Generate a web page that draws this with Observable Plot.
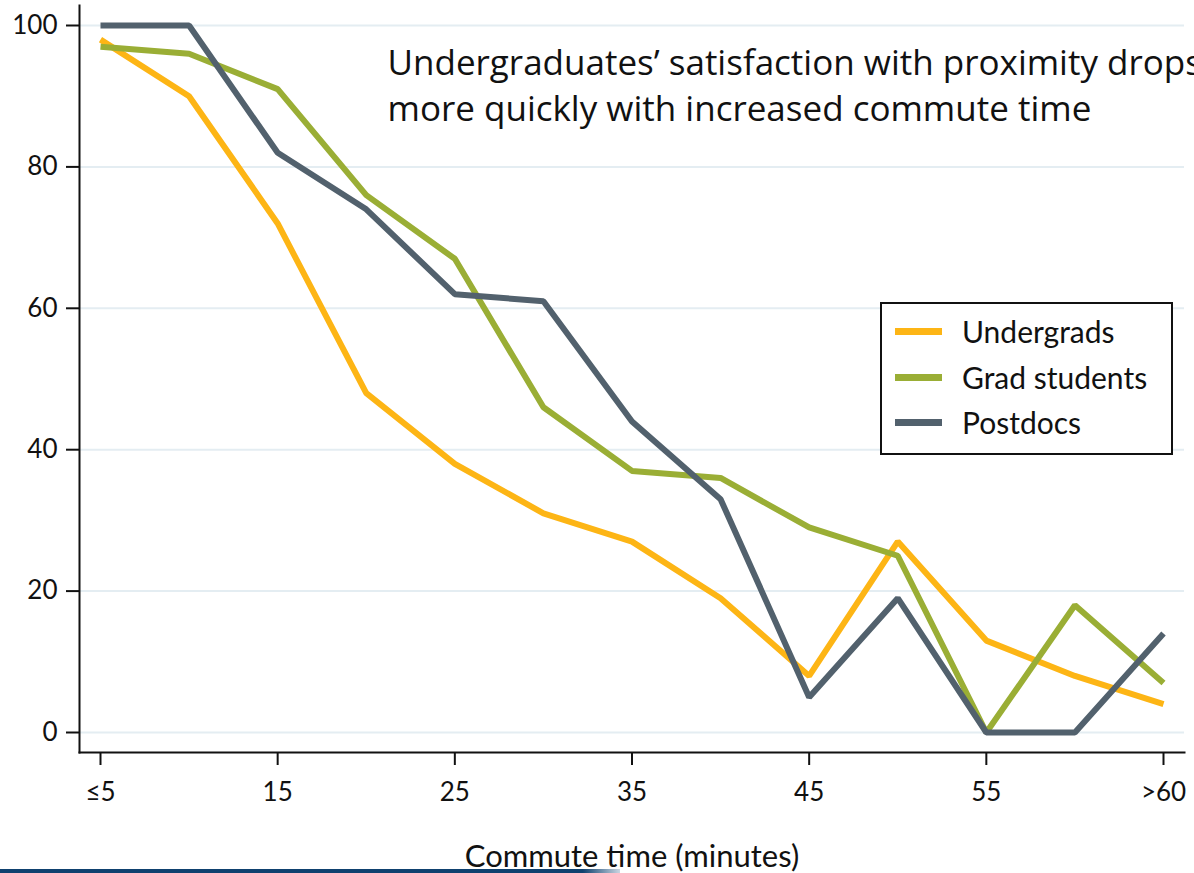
<!DOCTYPE html>
<html>
<head>
<meta charset="utf-8">
<script src="https://cdn.jsdelivr.net/npm/d3@7"></script>
<script src="https://cdn.jsdelivr.net/npm/@observablehq/plot@0.6"></script>
<style>
  html, body { margin: 0; padding: 0; background: white; overflow: hidden; }
  #wrap { position: relative; width: 1194px; height: 873px; }
  #legend { position: absolute; left: 880px; top: 302px; width: 293px; height: 153px;
    box-sizing: border-box; border: 2px solid #111; background: white;
    font-family: Lato, sans-serif; font-size: 30px; color: #111; }
  .item { position: absolute; left: 13px; height: 30px; display: flex; align-items: center; }
  .sw { width: 47px; height: 7px; margin-right: 20px; }
  #bar { position: absolute; left: 0; top: 869px; width: 620px; height: 4px;
    background: linear-gradient(to right, #0f416f 0%, #0f416f 94%, #c9d6e2 100%); }
</style>
</head>
<body>
<div id="wrap"></div>
<script>
const minutes = [5, 10, 15, 20, 25, 30, 35, 40, 45, 50, 55, 60, 65];
const undergrads = [98, 90, 72, 48, 38, 31, 27, 19, 8, 27, 13, 8, 4];
const grads = [97, 96, 91, 76, 67, 46, 37, 36, 29, 25, 0, 18, 7];
const postdocs = [100, 100, 82, 74, 62, 61, 44, 33, 5, 19, 0, 0, 14];
const seriesNames = ["Undergrads", "Grad students", "Postdocs"];
const seriesColors = ["#fdb515", "#9aae35", "#52616d"];
const xTicks = [5, 15, 25, 35, 45, 55, 65];
const xTickLabels = ["≤5", "15", "25", "35", "45", "55", ">60"];
const yTicks = [0, 20, 40, 60, 80, 100];
const titleText = "Undergraduates’ satisfaction with proximity drops\nmore quickly with increased commute time";
const xLabel = "Commute time (minutes)";

const seriesValues = [undergrads, grads, postdocs];
const data = seriesNames.flatMap((s, i) =>
  minutes.map((m, j) => ({series: s, minutes: m, value: seriesValues[i][j]})));

const chart = Plot.plot({
  width: 1194,
  height: 873,
  marginLeft: 79,
  marginRight: 10,
  marginTop: 5,
  marginBottom: 121,
  x: {domain: [5, 65], range: [100, 1163]},
  y: {domain: [0, 100], range: [732, 25]},
  color: {domain: seriesNames, range: seriesColors},
  style: {fontFamily: "Lato, sans-serif", fontSize: "26px", color: "#111", background: "white", overflow: "hidden"},
  marks: [
    Plot.gridY(yTicks, {stroke: "#e4edf2", strokeOpacity: 1, strokeWidth: 2}),
    Plot.axisY(yTicks, {anchor: "left", tickSize: 13, tickPadding: 9, strokeWidth: 2, fontSize: 26, label: null}),
    Plot.axisX(xTicks, {anchor: "bottom", tickSize: 13, tickPadding: 17, strokeWidth: 2, fontSize: 26,
      tickFormat: (d) => xTickLabels[xTicks.indexOf(d)], label: null}),
    Plot.frame({anchor: "left", stroke: "#111", strokeWidth: 2}),
    Plot.frame({anchor: "bottom", stroke: "#111", strokeWidth: 2}),
    Plot.line(data, {x: "minutes", y: "value", z: "series", stroke: "series", strokeWidth: 6,
      strokeLinejoin: "miter", strokeLinecap: "butt"}),
    Plot.text([titleText], {frameAnchor: "top-left", dx: 308, dy: 37, textAnchor: "start", lineAnchor: "top",
      fontFamily: "Open Sans, sans-serif", fontSize: 35, lineHeight: 1.31, fill: "#111"}),
    Plot.text([xLabel], {frameAnchor: "bottom", dy: 105, lineAnchor: "middle", fontSize: 31, fill: "#111"})
  ]
});

const wrap = document.getElementById("wrap");
wrap.appendChild(chart);

const legend = document.createElement("div");
legend.id = "legend";
const tops = [12, 58, 103];
seriesNames.forEach((s, i) => {
  const it = document.createElement("div");
  it.className = "item";
  it.style.top = tops[i] + "px";
  const sw = document.createElement("div");
  sw.className = "sw";
  sw.style.background = seriesColors[i];
  const tx = document.createElement("span");
  tx.textContent = s;
  it.appendChild(sw);
  it.appendChild(tx);
  legend.appendChild(it);
});
wrap.appendChild(legend);

const bar = document.createElement("div");
bar.id = "bar";
wrap.appendChild(bar);
</script>
</body>
</html>
